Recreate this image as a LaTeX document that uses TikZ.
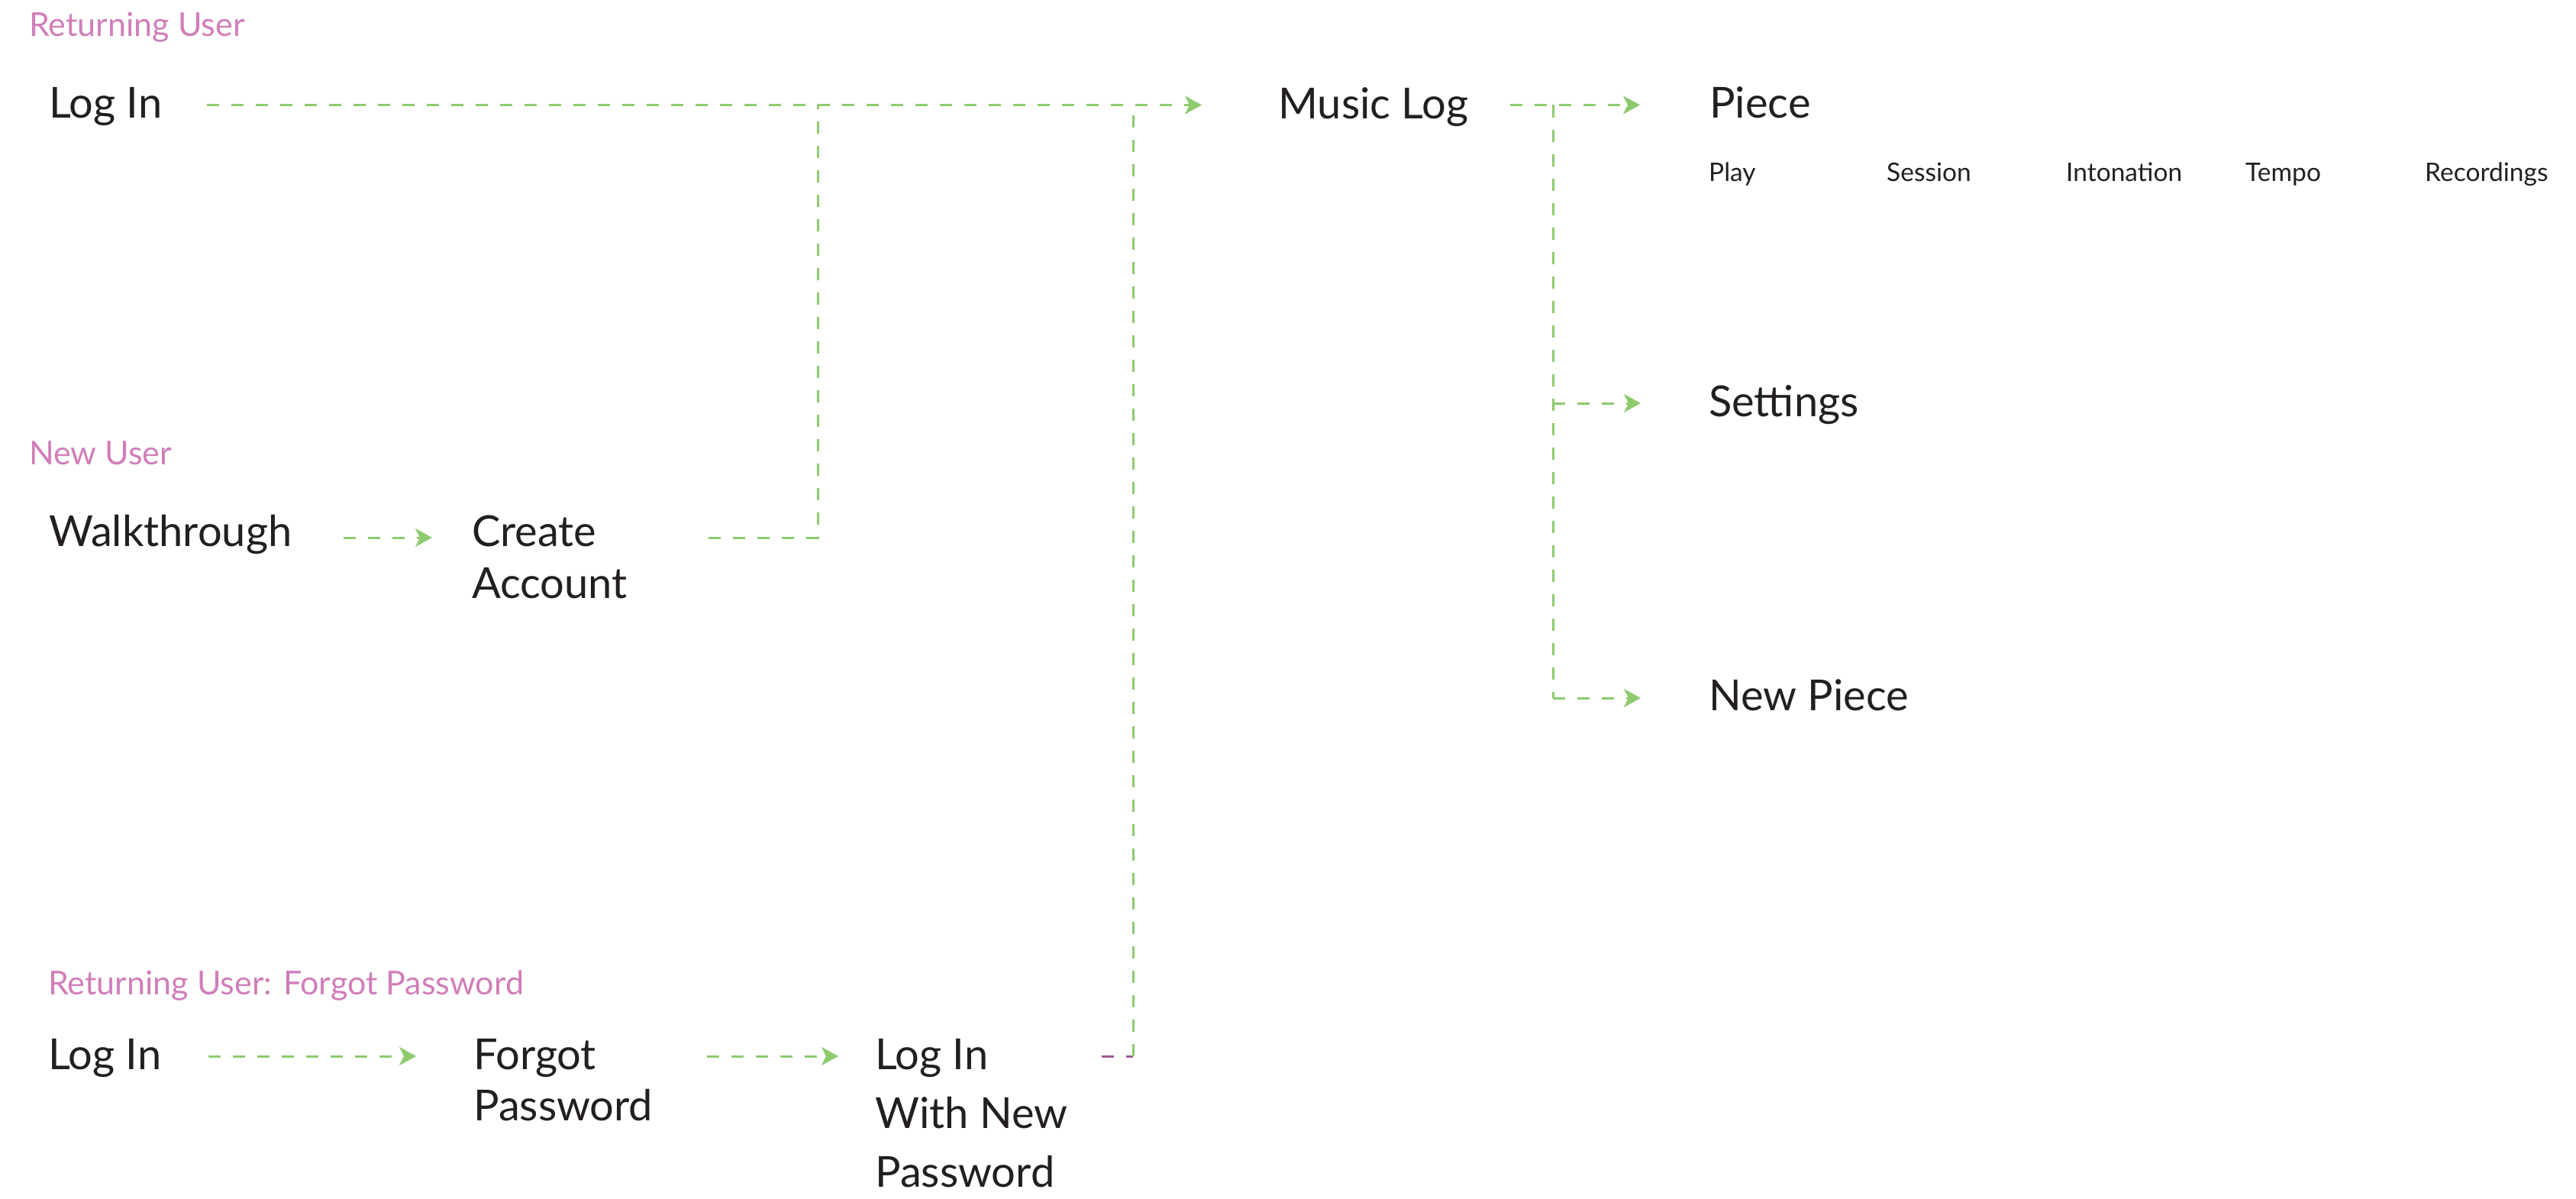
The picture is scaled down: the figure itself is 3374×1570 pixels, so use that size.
\documentclass[tikz,border=0pt]{standalone}
\usepackage{fontspec}
\setmainfont{Lato}
\usetikzlibrary{arrows.meta}
\definecolor{flowgreen}{HTML}{8DCB6E}
\definecolor{headpink}{HTML}{D07EB9}
\definecolor{linkpurple}{HTML}{9D5B98}
\definecolor{inkblack}{HTML}{231F20}
\tikzset{
  screen/.style={anchor=base west, inner sep=0pt, text=inkblack, align=left, font=\fontsize{56bp}{68bp}\selectfont},
  subscreen/.style={anchor=base west, inner sep=0pt, text=inkblack, font=\fontsize{33.5bp}{40bp}\selectfont},
  heading/.style={anchor=base west, inner sep=0pt, text=headpink, font=\fontsize{43bp}{52bp}\selectfont},
  flow/.style={draw=flowgreen, line width=3bp, dash pattern=on 16bp off 16bp},
  flowarrow/.style={flow, -{Stealth[length=22bp, width=24bp, inset=6bp, fill=flowgreen]}},
  purpleflow/.style={draw=linkpurple, line width=3bp, dash pattern=on 16bp off 16bp}
}
\begin{document}
\begin{tikzpicture}[x=1bp, y=-1bp]
\useasboundingbox (0,0) rectangle (3374,1570);
% headings
\node[heading] (hret) at (38,48) {Returning User};
\node[heading] (hnew) at (38,608) {New User};
\node[heading] (hforgot) at (63,1302) {Returning User: Forgot Password};
% screens
\node[screen] (login) at (64,155) {Log In};
\node[screen] (musiclog) at (1674,156) {Music Log};
\node[screen] (piece) at (2239,155) {Piece};
\node[subscreen] (play) at (2238,237) {Play};
\node[subscreen] (session) at (2471,237) {Session};
\node[subscreen] (intonation) at (2706,237) {Intonation};
\node[subscreen] (tempo) at (2941,237) {Tempo};
\node[subscreen] (recordings) at (3176,237) {Recordings};
\node[screen] (settings) at (2238,545) {Settings};
\node[screen] (newpiece) at (2238,930) {New Piece};
\node[screen] (walk) at (64,715) {Walkthrough};
% multi-line nodes: base anchor is the last line's baseline
\node[screen] (create) at (618,783) {Create\\Account};
\node[screen] (login2) at (63,1400) {Log In};
\node[screen, font=\fontsize{56bp}{67bp}\selectfont] (forgot) at (620,1467) {Forgot\\Password};
\node[screen, font=\fontsize{56bp}{77bp}\selectfont] (loginnew) at (1146,1554) {Log In\\With New\\Password};
% ports
\coordinate (loginOut) at (271,137.5);
\coordinate (mlIn) at (1574,137.5);
\coordinate (mlOut) at (1978,137.5);
\coordinate (pieceIn) at (2148,137.5);
\coordinate (branch) at (2034,137.5);
\coordinate (settingsIn) at (2149,528);
\coordinate (newpieceIn) at (2149,914);
\coordinate (walkOut) at (450,704);
\coordinate (createIn) at (566,704);
\coordinate (createOut) at (928,704);
\coordinate (createJoin) at (1071,137.5);
\coordinate (login2Out) at (273,1383);
\coordinate (forgotIn) at (545,1383);
\coordinate (forgotOut) at (926,1383);
\coordinate (loginnewIn) at (1098,1383);
\coordinate (loginnewOut) at (1443,1383);
\coordinate (loginnewCorner) at (1484,1383);
\coordinate (loginnewJoin) at (1484,137.5);
% connectors
\draw[flowarrow] (loginOut) -- (mlIn);
\draw[flow] (createOut) -| (createJoin);
\draw[purpleflow] (loginnewOut) -- (loginnewCorner);
\draw[flow] (loginnewCorner) -- (loginnewJoin);
\draw[flowarrow] (mlOut) -- (pieceIn);
\draw[flow] (branch) -- (branch |- newpieceIn);
\draw[flowarrow] (branch |- settingsIn) -- (settingsIn);
\draw[flowarrow] (branch |- newpieceIn) -- (newpieceIn);
\draw[flowarrow] (walkOut) -- (createIn);
\draw[flowarrow] (login2Out) -- (forgotIn);
\draw[flowarrow] (forgotOut) -- (loginnewIn);
\end{tikzpicture}
\end{document}
